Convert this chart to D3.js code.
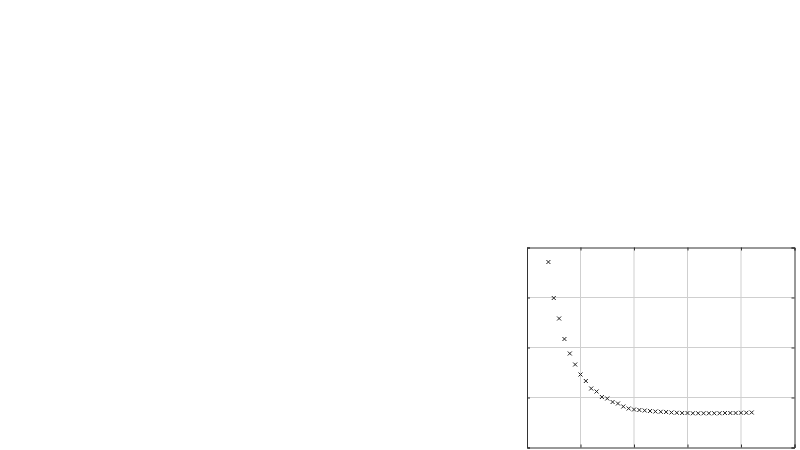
<!DOCTYPE html>
<html>
<head>
<meta charset="utf-8">
<script src="https://cdn.jsdelivr.net/npm/d3@7"></script>
<style>
  body { margin: 0; background: #fff; }
</style>
</head>
<body>
<div id="chart"></div>
<script>
// data (x = step, y = value)
const xs = [4, 5, 6, 7, 8, 9, 10, 11, 12, 13, 14, 15, 16, 17, 18, 19, 20, 21, 22, 23,
            24, 25, 26, 27, 28, 29, 30, 31, 32, 33, 34, 35, 36, 37, 38, 39, 40, 41, 42];
const ys = [3.71, 2.99, 2.58, 2.17, 1.88, 1.66, 1.46, 1.33, 1.18, 1.12, 1.01, 0.98, 0.91, 0.88, 0.82, 0.78, 0.76, 0.75, 0.74, 0.73,
            0.72, 0.715, 0.71, 0.70, 0.695, 0.69, 0.69, 0.685, 0.685, 0.685, 0.685, 0.685, 0.685, 0.69, 0.69, 0.69, 0.695, 0.695, 0.70];
const xTicks = [0, 10, 20, 30, 40, 50];
const yTicks = [0, 1, 2, 3, 4];

const W = 800, H = 450;
const box = {left: 527, right: 794.5, top: 247.5, bottom: 447.5};

const svg = d3.select("#chart")
  .append("svg")
    .attr("width", W)
    .attr("height", H);

const x = d3.scaleLinear().domain([0, 50]).range([box.left, box.right]);
const y = d3.scaleLinear().domain([0, 4]).range([box.bottom, box.top]);

// grid
const grid = svg.append("g").attr("stroke", "#cfcfcf").attr("stroke-width", 1);
grid.selectAll("line.vx")
  .data(xTicks.slice(1, -1))
  .enter().append("line")
    .attr("x1", d => x(d)).attr("x2", d => x(d))
    .attr("y1", box.top).attr("y2", box.bottom);
grid.selectAll("line.hy")
  .data(yTicks.slice(1, -1))
  .enter().append("line")
    .attr("y1", d => y(d)).attr("y2", d => y(d))
    .attr("x1", box.left).attr("x2", box.right);

// axes with inward ticks, no labels
const tk = 3;
svg.append("g")
  .attr("transform", `translate(0, ${box.bottom})`)
  .call(d3.axisBottom(x).tickValues(xTicks).tickSize(-tk).tickFormat(""));
svg.append("g")
  .attr("transform", `translate(0, ${box.top})`)
  .call(d3.axisTop(x).tickValues(xTicks).tickSize(-tk).tickFormat(""));
svg.append("g")
  .attr("transform", `translate(${box.left}, 0)`)
  .call(d3.axisLeft(y).tickValues(yTicks).tickSize(-tk).tickFormat(""));
svg.append("g")
  .attr("transform", `translate(${box.right}, 0)`)
  .call(d3.axisRight(y).tickValues(yTicks).tickSize(-tk).tickFormat(""));
svg.selectAll(".domain, .tick line").attr("stroke", "#333");

// x markers
const s = 2;
svg.append("g")
  .selectAll("path")
  .data(xs.map((d, i) => [d, ys[i]]))
  .enter()
  .append("path")
    .attr("d", d => {
      const px = x(d[0]), py = y(d[1]);
      return `M${px - s},${py - s}L${px + s},${py + s}M${px - s},${py + s}L${px + s},${py - s}`;
    })
    .attr("stroke", "#222")
    .attr("stroke-width", 1)
    .attr("fill", "none");
</script>
</body>
</html>
